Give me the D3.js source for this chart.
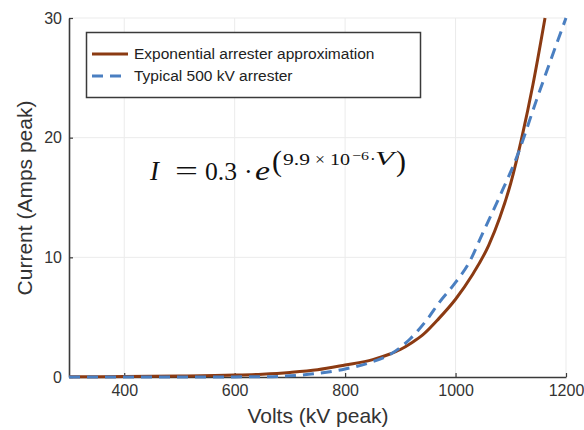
<!DOCTYPE html>
<html>
<head>
<meta charset="utf-8">
<script src="https://cdn.jsdelivr.net/npm/d3@7"></script>
<style>
  body { margin: 0; background: #fff; }
  svg { display: block; font-family: "Liberation Sans", Arial, sans-serif; }
</style>
</head>
<body>
<div id="chart"></div>
<script>
// Exponential approximation
const expVolts = [300, 400, 500, 600, 650, 700, 750, 800, 850, 880, 900, 920, 940, 970, 1000, 1030, 1060, 1080, 1100, 1120, 1140, 1162];
const expAmps = [0.02, 0.04, 0.08, 0.16, 0.24, 0.38, 0.6, 1.0, 1.45, 1.9, 2.3, 2.85, 3.5, 4.9, 6.5, 8.5, 11.0, 13.3, 16.2, 20.0, 24.4, 30];

// Typical 500 kV arrester
const arrVolts = [300, 500, 650, 700, 750, 800, 845, 882, 918, 950, 970, 1000, 1025, 1048, 1080, 1111, 1147, 1200];
const arrAmps = [0, 0, 0.02, 0.1, 0.3, 0.67, 1.2, 1.9, 3.2, 4.9, 6.2, 7.9, 9.6, 11.9, 15.1, 18.4, 23.2, 30];

const xTicks = [400, 600, 800, 1000, 1200];
const yTicks = [0, 10, 20, 30];
const seriesNames = ['Exponential arrester approximation', 'Typical 500 kV arrester'];

const chart = {
    totalWidth: 584,
    totalHeight: 430,
    left: 69,
    right: 566,
    top: 18,
    bottom: 377
};

const colors = { exp: '#8b3a12', arr: '#4a7fc1', axis: '#3a3a3a', grid: '#ebebeb', text: '#333' };

const svg = d3.select('#chart')
    .append('svg')
    .attr('width', chart.totalWidth)
    .attr('height', chart.totalHeight);

const xScale = d3.scaleLinear().domain([300, 1200]).range([chart.left, chart.right]);
const yScale = d3.scaleLinear().domain([0, 30]).range([chart.bottom, chart.top]);

// grid
svg.append('g')
    .selectAll('line')
    .data(xTicks)
    .enter().append('line')
    .attr('x1', d => xScale(d)).attr('x2', d => xScale(d))
    .attr('y1', chart.top).attr('y2', chart.bottom)
    .attr('stroke', colors.grid);

svg.append('g')
    .selectAll('line')
    .data(yTicks.filter(d => d > 0))
    .enter().append('line')
    .attr('x1', chart.left).attr('x2', chart.right)
    .attr('y1', d => yScale(d)).attr('y2', d => yScale(d))
    .attr('stroke', colors.grid);

// axes
const xAxis = d3.axisBottom(xScale).tickValues(xTicks).tickFormat(d3.format('d'))
    .tickSizeInner(-4).tickSizeOuter(0).tickPadding(8);
const yAxis = d3.axisLeft(yScale).tickValues(yTicks).tickFormat(d3.format('d'))
    .tickSizeInner(-4).tickSizeOuter(0).tickPadding(7);

const gx = svg.append('g')
    .attr('transform', `translate(0, ${chart.bottom})`)
    .call(xAxis);
const gy = svg.append('g')
    .attr('transform', `translate(${chart.left}, 0)`)
    .call(yAxis);

[gx, gy].forEach(g => {
    g.select('.domain').attr('stroke', colors.axis).attr('stroke-width', 1.6);
    g.selectAll('.tick line').attr('stroke', colors.axis).attr('stroke-width', 1.2);
    g.selectAll('.tick text')
        .attr('fill', colors.text)
        .style('font-size', '16px')
        .style('font-family', '"Liberation Sans", Arial, sans-serif');
});

// axis titles
svg.append('text')
    .attr('x', 318).attr('y', 423)
    .attr('text-anchor', 'middle')
    .attr('fill', colors.text)
    .style('font-size', '21px')
    .text('Volts (kV peak)');

svg.append('text')
    .attr('transform', 'translate(32, 198) rotate(-90)')
    .attr('text-anchor', 'middle')
    .attr('fill', colors.text)
    .style('font-size', '21px')
    .text('Current (Amps peak)');

// lines
const line = d3.line()
    .curve(d3.curveMonotoneX)
    .x(d => xScale(d[0]))
    .y(d => yScale(d[1]));

svg.append('path')
    .datum(d3.zip(expVolts, expAmps))
    .attr('fill', 'none')
    .attr('stroke', colors.exp)
    .attr('stroke-width', 3)
    .attr('d', line);

svg.append('path')
    .datum(d3.zip(arrVolts, arrAmps))
    .attr('fill', 'none')
    .attr('stroke', colors.arr)
    .attr('stroke-width', 3)
    .attr('stroke-dasharray', '11,7')
    .attr('d', line);

// legend
const legend = svg.append('g');
legend.append('rect')
    .attr('x', 86.5).attr('y', 32.5)
    .attr('width', 334).attr('height', 65)
    .attr('fill', '#fff')
    .attr('stroke', colors.axis)
    .attr('stroke-width', 1.5);

const legendItems = legend.selectAll('g.item')
    .data(seriesNames)
    .enter().append('g')
    .attr('transform', (d, i) => `translate(92, ${54 + i * 22})`);

legendItems.append('line')
    .attr('x1', 0).attr('x2', 36)
    .attr('stroke', (d, i) => i === 0 ? colors.exp : colors.arr)
    .attr('stroke-width', 3)
    .attr('stroke-dasharray', (d, i) => i === 0 ? null : '11,7');

legendItems.append('text')
    .attr('x', 42).attr('dy', '0.35em')
    .attr('fill', '#222')
    .style('font-size', '15.5px')
    .text(d => d);

// equation, placed piece by piece to mimic the math layout
const eq = svg.append('g')
    .style('font-family', '"Liberation Serif", "DejaVu Serif", serif')
    .attr('fill', '#111');

const eqParts = [
    { t: 'I', x: 150, y: 179.5, s: 27, it: true },
    { t: '=', x: 175, y: 179.5, s: 27, w: 23 },
    { t: '0.3', x: 205, y: 179.5, s: 26, w: 32 },
    { t: '·', x: 244, y: 179.5, s: 26 },
    { t: 'e', x: 255, y: 179.5, s: 27, it: true, w: 15 },
    { t: '(', x: 272, y: 171, s: 30 },
    { t: '9.9', x: 283, y: 165, s: 17, w: 27 },
    { t: '×', x: 315, y: 165, s: 17, w: 10 },
    { t: '10', x: 330, y: 165, s: 17, w: 20 },
    { t: '−6', x: 352, y: 160, s: 13, w: 17 },
    { t: '·', x: 370, y: 165, s: 17 },
    { t: 'V', x: 375, y: 165, s: 18, it: true, w: 19 },
    { t: ')', x: 396, y: 171, s: 30 }
];

eq.selectAll('text')
    .data(eqParts)
    .enter().append('text')
    .attr('x', d => d.x).attr('y', d => d.y)
    .attr('textLength', d => d.w || null)
    .attr('lengthAdjust', d => d.w ? 'spacingAndGlyphs' : null)
    .style('font-size', d => d.s + 'px')
    .style('font-style', d => d.it ? 'italic' : 'normal')
    .text(d => d.t);
</script>
</body>
</html>
